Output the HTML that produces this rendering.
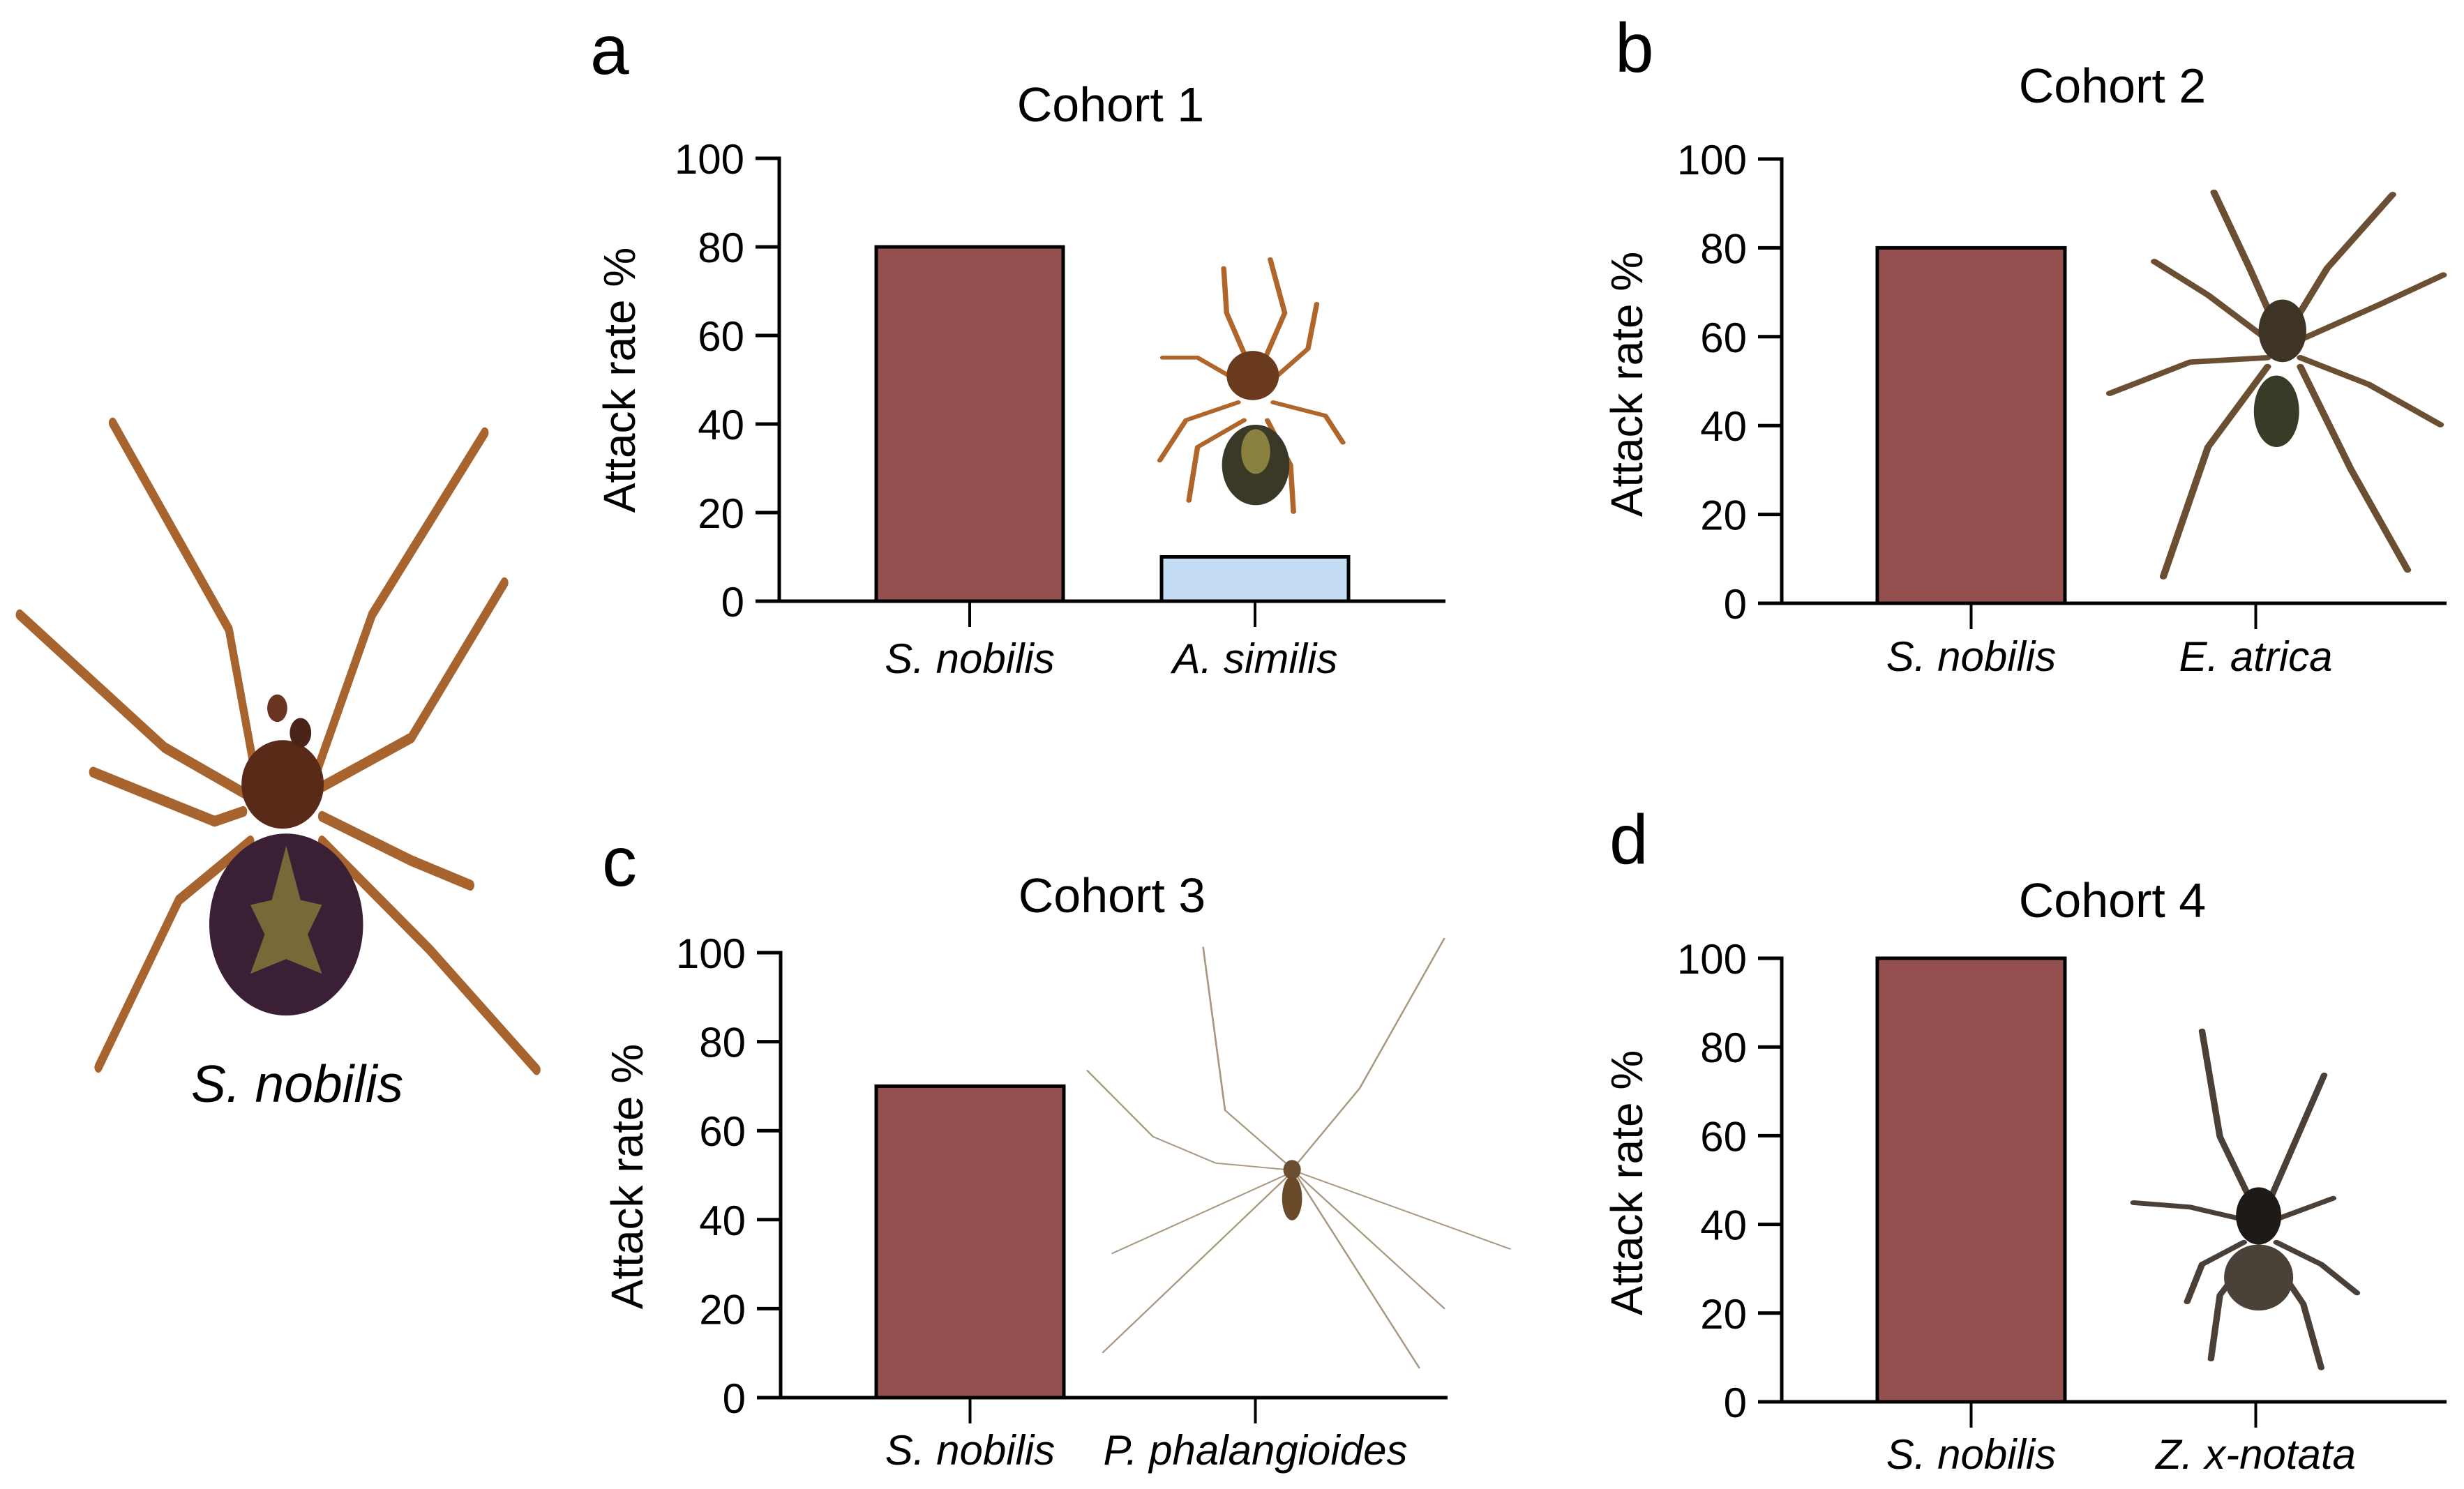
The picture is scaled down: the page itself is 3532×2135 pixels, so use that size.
<!DOCTYPE html>
<html><head><meta charset="utf-8"><style>
html,body{margin:0;padding:0;background:#fff;}
svg{display:block;}
text{font-family:"Liberation Sans",Arial,sans-serif;fill:#000;}
</style></head><body>
<svg id="fig" width="3532" height="2135" viewBox="0 0 3532 2135" xmlns="http://www.w3.org/2000/svg">
<g id="main-spider" transform="translate(0,550) scale(0.5128,0.7052)">
  <g fill="none" stroke="#a8642e" stroke-width="22" stroke-linecap="round" stroke-linejoin="round">
    <polyline points="720,820 640,500 315,80"/>
    <polyline points="700,840 460,740 55,470"/>
    <polyline points="680,870 600,890 260,790"/>
    <polyline points="700,930 500,1050 275,1390"/>
    <polyline points="880,800 1040,470 1355,100"/>
    <polyline points="900,820 1150,720 1410,405"/>
    <polyline points="900,880 1150,970 1315,1020"/>
    <polyline points="900,930 1200,1150 1500,1395"/>
  </g>
  <ellipse cx="790" cy="815" rx="115" ry="90" fill="#5a2a18"/>
  <circle cx="775" cy="660" r="28" fill="#6a3420"/>
  <circle cx="840" cy="710" r="30" fill="#4a2418"/>
  <ellipse cx="800" cy="1100" rx="215" ry="185" fill="#3a1f35"/>
  <path d="M800,940 L760,1050 L700,1060 L740,1120 L700,1200 L800,1170 L900,1200 L860,1120 L900,1060 L840,1050 Z" fill="#8a7a3a" opacity="0.8"/>
</g>
<text x="426" y="1580" font-size="75" font-style="italic" text-anchor="middle">S. nobilis</text>
</svg>
<script>
// ---- chart data ----
const panelLetters = ["a","b","c","d"];
const cohortTitles = ["Cohort 1","Cohort 2","Cohort 3","Cohort 4"];
const speciesA = ["S. nobilis","S. nobilis","S. nobilis","S. nobilis"];
const speciesB = ["A. similis","E. atrica","P. phalangioides","Z. x-notata"];
const attackA = [80,80,70,100];
const attackB = [10,0,0,0];
const yTicks = [0,20,40,60,80,100];

// ---- layout (not data) ----
const layout = [
  {ax:1117,y0:862,y100:227,xEnd:2072,b1:[1256,1524],b2:[1665,1933],letter:[846,106],title:[1592,174],yt:[888,545],lab:965},
  {ax:2554,y0:865,y100:228,xEnd:3507,b1:[2691,2960],b2:[3099,3368],letter:[2315,103],title:[3028,147],yt:[2332,551],lab:962},
  {ax:1119,y0:2004,y100:1366,xEnd:2075,b1:[1256,1525],b2:[1665,1934],letter:[863,1270],title:[1594,1308],yt:[899,1687],lab:2100},
  {ax:2554,y0:2010,y100:1374,xEnd:3507,b1:[2691,2960],b2:[3099,3368],letter:[2307,1238],title:[3028,1315],yt:[2332,1696],lab:2106}
];
const NS="http://www.w3.org/2000/svg";
const svg=document.getElementById('fig');
function mk(tag,attrs,parent){const e=document.createElementNS(NS,tag);for(const k in attrs)e.setAttribute(k,attrs[k]);(parent||svg).appendChild(e);return e;}

// spider drawings (decorative photos)
function spider(parent,tr,legs,color,width,bodies){
  const g=mk('g',{transform:tr},parent);
  
  
  legs.forEach(p=>{mk('polyline',{points:p,fill:'none',stroke:color,'stroke-width':width,'stroke-linecap':'round','stroke-linejoin':'round'},g);});
  bodies.forEach(b=>{mk('ellipse',{cx:b[0],cy:b[1],rx:b[2],ry:b[3],fill:b[4]},g);});
}
const photos=mk('g',{});


spider(photos,"translate(800,0) scale(0.8333,0.641)",
 ["1190,820 1150,700 1145,600","1210,820 1250,700 1225,580","1220,860 1290,780 1305,680","1180,860 1100,800 1040,800","1230,900 1320,930 1350,990","1170,900 1080,940 1035,1030","1180,940 1100,1000 1085,1120","1220,940 1260,1040 1265,1145"],
 "#b0662a",9,[[1195,840,45,55,"#6a3a1c"],[1200,1040,58,90,"#3a3826"],[1200,1010,25,50,"#8a8040"]]);
spider(photos,"translate(2200,0) scale(0.854,0.641)",
 ["1240,720 1200,600 1140,430","1275,720 1330,600 1440,435","1230,760 1130,660 1040,585","1285,760 1420,680 1525,615","1230,800 1100,810 965,880","1285,800 1400,860 1520,950","1230,820 1130,1000 1055,1290","1285,820 1370,1050 1465,1275"],
 "#6b4f33",12,[[1255,740,40,70,"#3e3426"],[1245,920,38,80,"#3a3a28"]]);
spider(photos,"translate(800,1150) scale(0.8977,0.6313)",
 ["1170,830 1065,700 1030,330","1175,830 1280,650 1415,310","1165,835 1050,820 950,760 845,610","1165,845 885,1025","1165,850 870,1250","1180,850 1375,1285","1180,845 1415,1150","1180,840 1520,1015"],
 "#a89880",3,[[1172,835,14,22,"#6a5030"],[1172,900,16,50,"#6a4a28"]]);
spider(photos,"translate(2200,1150) scale(0.854,0.6313)",
 ["1200,900 1150,760 1120,520","1235,900 1280,760 1325,620","1195,950 1100,920 1005,910","1240,950 1300,920 1340,900","1190,1000 1120,1050 1095,1135","1245,1000 1320,1050 1380,1115","1195,1040 1150,1120 1135,1265","1240,1040 1290,1140 1320,1285"],
 "#4a4038",11,[[1215,940,38,65,"#1e1a18"],[1215,1080,58,75,"#4a4238"]]);

layout.forEach((L,i)=>{
  const g=mk('g',{});
  
  
  const yS=v=>L.y0+(L.y100-L.y0)*v/100;
  const t=mk('text',{x:L.letter[0],y:L.letter[1],'font-size':100},g);
  t.textContent=panelLetters[i];
  
  
  const ti=mk('text',{x:L.title[0],y:L.title[1],'font-size':70,'text-anchor':'middle'},g);
  ti.textContent=cohortTitles[i];
  
  
  const yt=mk('text',{x:L.yt[0],y:L.yt[1],'font-size':64,'text-anchor':'middle','dominant-baseline':'central',transform:'rotate(-90 '+L.yt[0]+' '+L.yt[1]+')'},g);
  yt.textContent="Attack rate %";
  
  
  // bars
  const vals=[attackA[i],attackB[i]], fills=["#944f4f","#c5dcf5"], bx=[L.b1,L.b2];
  vals.forEach((v,k)=>{
    if(v<=0)return;
    const r=mk('rect',{x:bx[k][0],y:yS(v),width:bx[k][1]-bx[k][0],height:L.y0-yS(v),fill:fills[k],stroke:'#000','stroke-width':5},g);
    
    
  });
  // y axis
  const ya=mk('line',{x1:L.ax,y1:yS(100)-2.5,x2:L.ax,y2:L.y0,stroke:'#000','stroke-width':5},g);
  
  
  yTicks.forEach(v=>{
    const tk=mk('line',{x1:L.ax-34,y1:yS(v),x2:L.ax,y2:yS(v),stroke:'#000','stroke-width':5},g);
    
    
    const tl=mk('text',{x:L.ax-50,y:yS(v)+22,'font-size':60,'text-anchor':'end'},g);
    tl.textContent=v;
    
    
  });
  const xa=mk('line',{x1:L.ax-34,y1:L.y0,x2:L.xEnd,y2:L.y0,stroke:'#000','stroke-width':5},g);
  
  
  [speciesA[i],speciesB[i]].forEach((s,k)=>{
    const cx=(bx[k][0]+bx[k][1])/2;
    const tk=mk('line',{x1:cx,y1:L.y0,x2:cx,y2:L.y0+37,stroke:'#000','stroke-width':4},g);
    
    
    const tl=mk('text',{x:cx,y:L.lab,'font-size':60,'font-style':'italic','text-anchor':'middle'},g);
    tl.textContent=s;
    
    
  });
});
</script>
</body></html>
